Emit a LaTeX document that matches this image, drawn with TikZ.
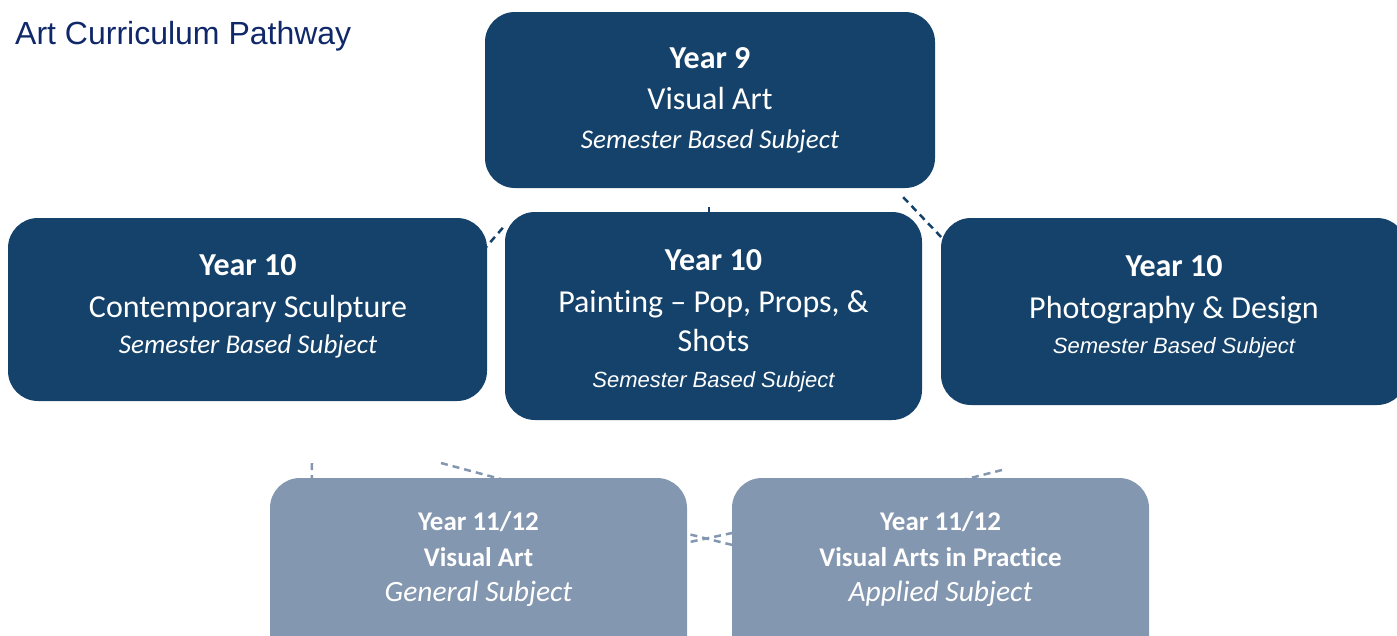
\documentclass[tikz,border=0pt]{standalone}
\usepackage{fontspec}
\setmainfont{Carlito}[Ligatures=NoCommon]
\newfontfamily\titlefont{Liberation Sans}
\usetikzlibrary{calc,backgrounds}
\definecolor{darkbox}{HTML}{14426A}
\definecolor{lightbox}{HTML}{8497B0}
\definecolor{titleblue}{HTML}{10286A}
\tikzset{
    yearbox/.style={fill=darkbox, rounded corners=30pt, inner sep=0pt},
    yeartext/.style={text=white, align=center, inner sep=0pt, font=\bigline},
    seniorbox/.style={fill=lightbox, rounded corners=30pt, inner sep=0pt},
    seniortext/.style={text=white, align=center, inner sep=0pt, font=\fontsize{27}{36}\selectfont},
    darklink/.style={darkbox, line width=2.5pt, dash pattern=on 7pt off 5pt},
    lightlink/.style={lightbox, line width=2.5pt, dash pattern=on 7pt off 5pt},
}
\newcommand{\bigline}{\fontsize{32}{40}\selectfont}
\newcommand{\subline}{\fontsize{27}{36}\selectfont\itshape}
\newcommand{\armsub}{\titlefont\fontsize{22}{36}\selectfont\itshape}
\newcommand{\typeline}{\fontsize{29.5}{36}\selectfont\itshape}
\begin{document}
\begin{tikzpicture}[x=1pt,y=-1pt]
    \useasboundingbox (0,0) rectangle (1397,635);
    \node[anchor=base west, inner sep=0pt, text=titleblue, font=\titlefont\fontsize{32}{36}\selectfont] (title) at (15,44) {Art Curriculum Pathway};
    % year 9 and year 10
    \node[yearbox, minimum width=450pt, minimum height=176pt] (y9) at (710,100) {};
    \node[yearbox, minimum width=479pt, minimum height=183pt] (y10a) at (247.5,309.5) {};
    \node[yearbox, minimum width=417pt, minimum height=208pt] (y10b) at (713.5,316) {};
    \node[yearbox, minimum width=466pt, minimum height=187pt] (y10c) at (1174,311.5) {};
    \node[yeartext] (y9text) at (710,100)
        {\textbf{Year 9}\\[1pt] Visual Art\\[-1pt] {\subline Semester Based Subject}};
    \node[yeartext] (y10atext) at (248,306)
        {\textbf{Year 10}\\[2pt] Contemporary Sculpture\\[-4pt] {\subline Semester Based Subject}};
    \node[yeartext] (y10btext) at (713.5,320.5)
        {\textbf{Year 10}\\[2pt] Painting -- Pop, Props, \&\\[-1pt] Shots\\[-4pt] {\armsub Semester Based Subject}};
    \node[yeartext] (y10ctext) at (1174,306.5)
        {\textbf{Year 10}\\[2pt] Photography \& Design\\[-5pt] {\armsub Semester Based Subject}};
    % year 11/12
    \node[seniorbox, minimum width=417pt, minimum height=200pt] (y11a) at (478.5,578) {};
    \node[seniorbox, minimum width=417pt, minimum height=200pt] (y11b) at (940.5,578) {};
    \node[seniortext] (y11atext) at (478.5,559)
        {\textbf{Year 11/12}\\ \textbf{Visual Art}\\[-1pt] {\typeline General Subject}};
    \node[seniortext] (y11btext) at (940.5,559)
        {\textbf{Year 11/12}\\ \textbf{Visual Arts in Practice}\\[-1pt] {\typeline Applied Subject}};
    % free ends of the lower links
    \coordinate (leftstub) at (312,463);
    \coordinate (midstub) at (441,463);
    \coordinate (rightstub) at (1002,470);
    \begin{scope}[on background layer]
        \draw[darklink] ($(y10b.north west)+(-2,16)$) -- ($(y10a.north east)+(-47,82)$);
        \draw[darklink] ($(y9.south)+(-1,19)$) -- ($(y10b.north)+(-4.5,6)$);
        \draw[darklink] ($(y9.south east)+(-32,9)$) -- ($(y10c.north west)+(22,42)$);
        \draw[lightlink] (leftstub) -- ($(y11a.north west)+(42,10)$);
        \draw[lightlink] (midstub) -- ($(y11a.north west)+(260,9)$);
        \draw[lightlink] (rightstub) -- ($(y11b.north west)+(208,8)$);
        \draw[lightlink] ($(y11a.north east)+(-20,51)$) -- ($(y11b.north west)+(20,72)$);
        \draw[lightlink] ($(y11a.north east)+(-20,69)$) -- ($(y11b.north west)+(20,51)$);
    \end{scope}
\end{tikzpicture}
\end{document}
